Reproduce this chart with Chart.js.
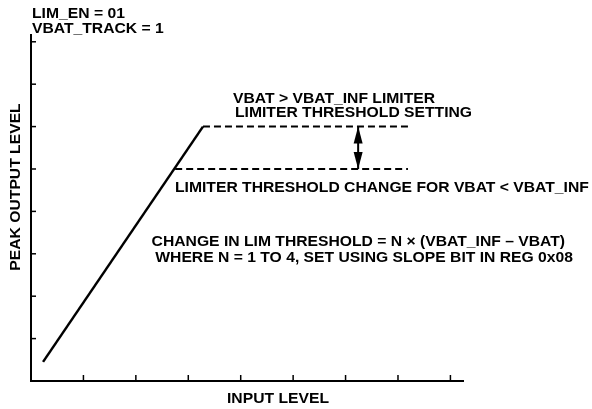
<!DOCTYPE html>
<html><head><meta charset="utf-8">
<script src="https://cdn.jsdelivr.net/npm/chart.js@4/dist/chart.umd.min.js"></script>
<style>html,body{margin:0;padding:0;background:#fff;}canvas{display:block;}</style>
</head><body>
<canvas id="c" width="592" height="409"></canvas>
<script>
// ---- data ----
const xTicks = [1, 2, 3, 4, 5, 6, 7, 8];
const yTicks = [1, 2, 3, 4, 5, 6, 7, 8];
const rampX = [0.23, 3.28];
const rampY = [0.45, 6];
const upperX = [3.28, 7.19];
const upperY = [6, 6];
const lowerX = [2.75, 7.19];
const lowerY = [5, 5];
const arrowX = [6.24, 6.24];
const arrowY = [6, 5];
const headerLines = ['LIM_EN = 01', 'VBAT_TRACK = 1'];
const upperNote = ['VBAT > VBAT_INF LIMITER', 'LIMITER THRESHOLD SETTING'];
const lowerNote = ['LIMITER THRESHOLD CHANGE FOR VBAT < VBAT_INF'];
const formulaNote = ['CHANGE IN LIM THRESHOLD = N \u00D7 (VBAT_INF \u2013 VBAT)', 'WHERE N = 1 TO 4, SET USING SLOPE BIT IN REG 0x08'];
const xTitle = 'INPUT LEVEL';
const yTitle = 'PEAK OUTPUT LEVEL';

const pts = (xs, ys) => xs.map((x, i) => ({x: x, y: ys[i]}));
const FONT = 'bold 14.6px "Liberation Sans", Arial, sans-serif';
const STRETCH = 1.075;

function txt(ctx, s, x, y, align, rot) {
  ctx.save();
  ctx.translate(x, y);
  if (rot) ctx.rotate(rot);
  ctx.scale(STRETCH, 1);
  ctx.textAlign = align;
  ctx.fillText(s, 0, 0);
  ctx.restore();
}

const decor = {
  id: 'decor',
  afterDatasetsDraw(chart) {
    const ctx = chart.ctx, xs = chart.scales.x, ys = chart.scales.y;
    ctx.save();
    ctx.strokeStyle = '#000';
    ctx.lineWidth = 1.5;
    xTicks.forEach(v => {
      const px = xs.getPixelForValue(v);
      ctx.beginPath(); ctx.moveTo(px, ys.bottom); ctx.lineTo(px, ys.bottom - 6); ctx.stroke();
    });
    yTicks.forEach(v => {
      const py = ys.getPixelForValue(v);
      ctx.beginPath(); ctx.moveTo(xs.left, py); ctx.lineTo(xs.left + 5, py); ctx.stroke();
    });
    // arrowheads
    const m = chart.getDatasetMeta(3).data;
    ctx.fillStyle = '#000';
    const head = (tip, other) => {
      const dir = Math.sign(other.y - tip.y);
      ctx.beginPath();
      ctx.moveTo(tip.x, tip.y);
      ctx.lineTo(tip.x - 4.5, tip.y + dir * 17);
      ctx.lineTo(tip.x + 4.5, tip.y + dir * 17);
      ctx.closePath(); ctx.fill();
    };
    head(m[0], m[1]); head(m[1], m[0]);
    // texts
    ctx.font = FONT;
    ctx.textBaseline = 'alphabetic';
    txt(ctx, headerLines[0], 32, 18, 'left');
    txt(ctx, headerLines[1], 32, 33, 'left');
    txt(ctx, upperNote[0], 233, 103, 'left');
    txt(ctx, upperNote[1], 235, 117, 'left');
    txt(ctx, lowerNote[0], 175, 192, 'left');
    txt(ctx, formulaNote[0], 565, 246, 'right');
    txt(ctx, formulaNote[1], 573, 262, 'right');
    txt(ctx, xTitle, 278, 403, 'center');
    txt(ctx, yTitle, 20, 187, 'center', -Math.PI / 2);
    ctx.restore();
  }
};

new Chart(document.getElementById('c'), {
  type: 'scatter',
  data: {
    datasets: [
      {data: pts(rampX, rampY), showLine: true, borderColor: '#000', borderWidth: 2.5, pointRadius: 0},
      {data: pts(upperX, upperY), showLine: true, borderColor: '#000', borderWidth: 2, borderDash: [7, 4], pointRadius: 0},
      {data: pts(lowerX, lowerY), showLine: true, borderColor: '#000', borderWidth: 2, borderDash: [7, 4], pointRadius: 0},
      {data: pts(arrowX, arrowY), showLine: true, borderColor: '#000', borderWidth: 2, pointRadius: 0}
    ]
  },
  options: {
    responsive: false,
    animation: false,
    devicePixelRatio: 1,
    layout: {padding: {left: 31, right: 129, top: 35, bottom: 28}},
    plugins: {legend: {display: false}, tooltip: {enabled: false}},
    scales: {
      x: {type: 'linear', min: 0, max: 8.24,
          ticks: {display: false}, grid: {drawOnChartArea: false, drawTicks: false},
          border: {display: true, color: '#000', width: 2}},
      y: {type: 'linear', min: 0, max: 8.16,
          ticks: {display: false}, grid: {drawOnChartArea: false, drawTicks: false},
          border: {display: true, color: '#000', width: 2}}
    }
  },
  plugins: [decor]
});
</script>
</body></html>
